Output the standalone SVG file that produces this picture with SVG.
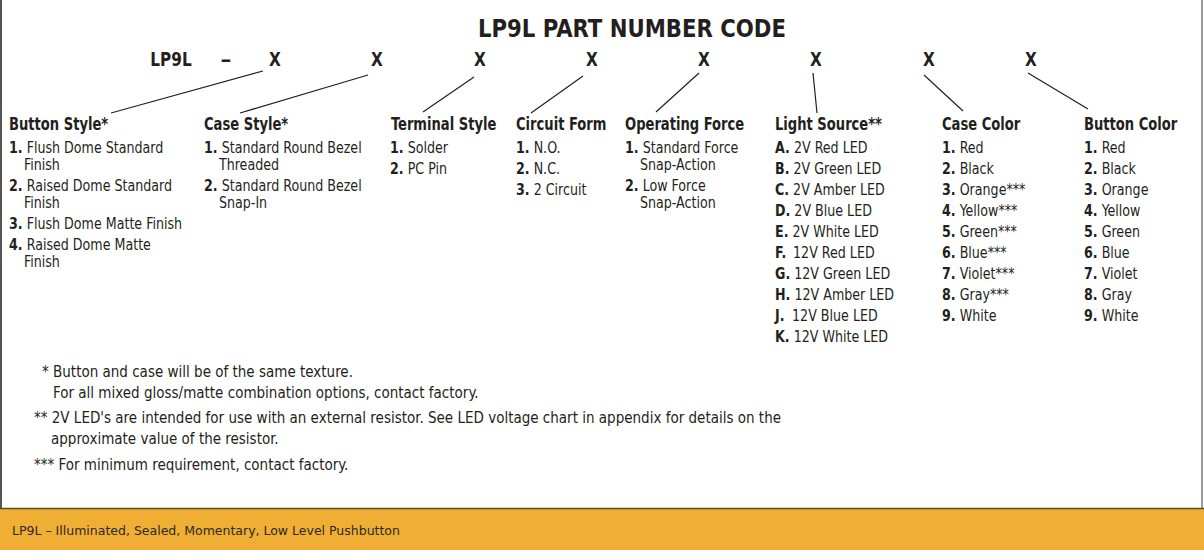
<svg xmlns="http://www.w3.org/2000/svg" width="1204" height="550" viewBox="0 0 1204 550">
<style>
text{font-family:"DejaVu Sans Condensed","Liberation Sans",sans-serif;fill:#231f20}
.t{font-size:25px;font-weight:bold}
.c{font-size:20px;font-weight:bold;text-anchor:middle}
.h{font-size:18px;font-weight:bold}
.i{font-size:16px}
.n{font-weight:bold}
.f{font-size:15px}
.ft{font-family:"DejaVu Sans",sans-serif;font-size:12.5px;fill:#2a2a2a}
.ln{stroke:#231f20;stroke-width:1.2;fill:none}
</style>
<rect x="0" y="0" width="1204" height="550" fill="#fff"/>
<line x1="1" y1="0" x2="1" y2="509" stroke="#555" stroke-width="2"/>
<line x1="1202" y1="0" x2="1202" y2="509" stroke="#999" stroke-width="2"/>
<rect x="0" y="509" width="1204" height="41" fill="#f1ae34"/>
<line x1="0" y1="508.5" x2="1204" y2="508.5" stroke="#5a4a30" stroke-width="1.5"/>
<g id="title"><text class="t" x="478" y="37" textLength="308" lengthAdjust="spacingAndGlyphs">LP9L PART NUMBER CODE</text></g>
<g id="code">
<text class="c" transform="translate(171,66) scale(0.85,1)">LP9L</text>
<text class="c" transform="translate(226,66) scale(1.2,1)">–</text>
<text class="c" transform="translate(275,66) scale(0.85,1)">X</text>
<text class="c" transform="translate(377,66) scale(0.85,1)">X</text>
<text class="c" transform="translate(480,66) scale(0.85,1)">X</text>
<text class="c" transform="translate(592,66) scale(0.85,1)">X</text>
<text class="c" transform="translate(704,66) scale(0.85,1)">X</text>
<text class="c" transform="translate(816,66) scale(0.85,1)">X</text>
<text class="c" transform="translate(929,66) scale(0.85,1)">X</text>
<text class="c" transform="translate(1031,66) scale(0.85,1)">X</text>
</g>
<g id="connectors">
<line class="ln" x1="263" y1="71" x2="111" y2="113"/>
<line class="ln" x1="368" y1="75" x2="240" y2="113"/>
<line class="ln" x1="474" y1="77" x2="423" y2="112"/>
<line class="ln" x1="583" y1="76" x2="531" y2="113"/>
<line class="ln" x1="699" y1="73" x2="656" y2="112"/>
<line class="ln" x1="813" y1="73" x2="817" y2="113"/>
<line class="ln" x1="924" y1="75" x2="963" y2="111"/>
<line class="ln" x1="1028" y1="73" x2="1088" y2="109"/>
</g>
<g id="button-style">
<text class="h" transform="translate(9,130) scale(0.81,1)">Button Style*</text>
<g transform="translate(9,0) scale(0.88,1)">
<text class="i" x="0" y="153"><tspan class="n">1.</tspan> Flush Dome Standard</text>
<text class="i" x="17" y="170">Finish</text>
<text class="i" x="0" y="191"><tspan class="n">2.</tspan> Raised Dome Standard</text>
<text class="i" x="17" y="208">Finish</text>
<text class="i" x="0" y="229"><tspan class="n">3.</tspan> Flush Dome Matte Finish</text>
<text class="i" x="0" y="250"><tspan class="n">4.</tspan> Raised Dome Matte</text>
<text class="i" x="17" y="267">Finish</text>
</g>
</g>
<g id="case-style">
<text class="h" transform="translate(204,130) scale(0.81,1)">Case Style*</text>
<g transform="translate(204,0) scale(0.88,1)">
<text class="i" x="0" y="153"><tspan class="n">1.</tspan> Standard Round Bezel</text>
<text class="i" x="17" y="170">Threaded</text>
<text class="i" x="0" y="191"><tspan class="n">2.</tspan> Standard Round Bezel</text>
<text class="i" x="17" y="208">Snap-In</text>
</g>
</g>
<g id="terminal-style">
<text class="h" transform="translate(391,130) scale(0.81,1)">Terminal Style</text>
<g transform="translate(390,0) scale(0.88,1)">
<text class="i" x="0" y="153"><tspan class="n">1.</tspan> Solder</text>
<text class="i" x="0" y="174"><tspan class="n">2.</tspan> PC Pin</text>
</g>
</g>
<g id="circuit-form">
<text class="h" transform="translate(516,130) scale(0.81,1)">Circuit Form</text>
<g transform="translate(516,0) scale(0.88,1)">
<text class="i" x="0" y="153"><tspan class="n">1.</tspan> N.O.</text>
<text class="i" x="0" y="174"><tspan class="n">2.</tspan> N.C.</text>
<text class="i" x="0" y="195"><tspan class="n">3.</tspan> 2 Circuit</text>
</g>
</g>
<g id="operating-force">
<text class="h" transform="translate(625,130) scale(0.81,1)">Operating Force</text>
<g transform="translate(625,0) scale(0.88,1)">
<text class="i" x="0" y="153"><tspan class="n">1.</tspan> Standard Force</text>
<text class="i" x="17" y="170">Snap-Action</text>
<text class="i" x="0" y="191"><tspan class="n">2.</tspan> Low Force</text>
<text class="i" x="17" y="208">Snap-Action</text>
</g>
</g>
<g id="light-source">
<text class="h" transform="translate(775,130) scale(0.81,1)">Light Source**</text>
<g transform="translate(775,0) scale(0.88,1)">
<text class="i" x="0" y="153"><tspan class="n">A.</tspan> 2V Red LED</text>
<text class="i" x="0" y="174"><tspan class="n">B.</tspan> 2V Green LED</text>
<text class="i" x="0" y="195"><tspan class="n">C.</tspan> 2V Amber LED</text>
<text class="i" x="0" y="216"><tspan class="n">D.</tspan> 2V Blue LED</text>
<text class="i" x="0" y="237"><tspan class="n">E.</tspan> 2V White LED</text>
<text class="i" x="0" y="258"><tspan class="n">F.</tspan><tspan dx="3"> 12V Red LED</tspan></text>
<text class="i" x="0" y="279"><tspan class="n">G.</tspan> 12V Green LED</text>
<text class="i" x="0" y="300"><tspan class="n">H.</tspan> 12V Amber LED</text>
<text class="i" x="0" y="321"><tspan class="n">J.</tspan><tspan dx="4"> 12V Blue LED</tspan></text>
<text class="i" x="0" y="342"><tspan class="n">K.</tspan> 12V White LED</text>
</g>
</g>
<g id="case-color">
<text class="h" transform="translate(942,130) scale(0.81,1)">Case Color</text>
<g transform="translate(942,0) scale(0.88,1)">
<text class="i" x="0" y="153"><tspan class="n">1.</tspan> Red</text>
<text class="i" x="0" y="174"><tspan class="n">2.</tspan> Black</text>
<text class="i" x="0" y="195"><tspan class="n">3.</tspan> Orange***</text>
<text class="i" x="0" y="216"><tspan class="n">4.</tspan> Yellow***</text>
<text class="i" x="0" y="237"><tspan class="n">5.</tspan> Green***</text>
<text class="i" x="0" y="258"><tspan class="n">6.</tspan> Blue***</text>
<text class="i" x="0" y="279"><tspan class="n">7.</tspan> Violet***</text>
<text class="i" x="0" y="300"><tspan class="n">8.</tspan> Gray***</text>
<text class="i" x="0" y="321"><tspan class="n">9.</tspan> White</text>
</g>
</g>
<g id="button-color">
<text class="h" transform="translate(1084,130) scale(0.81,1)">Button Color</text>
<g transform="translate(1084,0) scale(0.88,1)">
<text class="i" x="0" y="153"><tspan class="n">1.</tspan> Red</text>
<text class="i" x="0" y="174"><tspan class="n">2.</tspan> Black</text>
<text class="i" x="0" y="195"><tspan class="n">3.</tspan> Orange</text>
<text class="i" x="0" y="216"><tspan class="n">4.</tspan> Yellow</text>
<text class="i" x="0" y="237"><tspan class="n">5.</tspan> Green</text>
<text class="i" x="0" y="258"><tspan class="n">6.</tspan> Blue</text>
<text class="i" x="0" y="279"><tspan class="n">7.</tspan> Violet</text>
<text class="i" x="0" y="300"><tspan class="n">8.</tspan> Gray</text>
<text class="i" x="0" y="321"><tspan class="n">9.</tspan> White</text>
</g>
</g>
<g id="footnotes">
<text class="f" x="42" y="377">* Button and case will be of the same texture.</text>
<text class="f" x="53" y="398">For all mixed gloss/matte combination options, contact factory.</text>
<text class="f" x="34" y="423">** 2V LED's are intended for use with an external resistor. See LED voltage chart in appendix for details on the</text>
<text class="f" x="51" y="444">approximate value of the resistor.</text>
<text class="f" x="34" y="470">*** For minimum requirement, contact factory.</text>
</g>
<g id="footer"><text class="ft" x="12" y="535">LP9L – Illuminated, Sealed, Momentary, Low Level Pushbutton</text></g>
</svg>
